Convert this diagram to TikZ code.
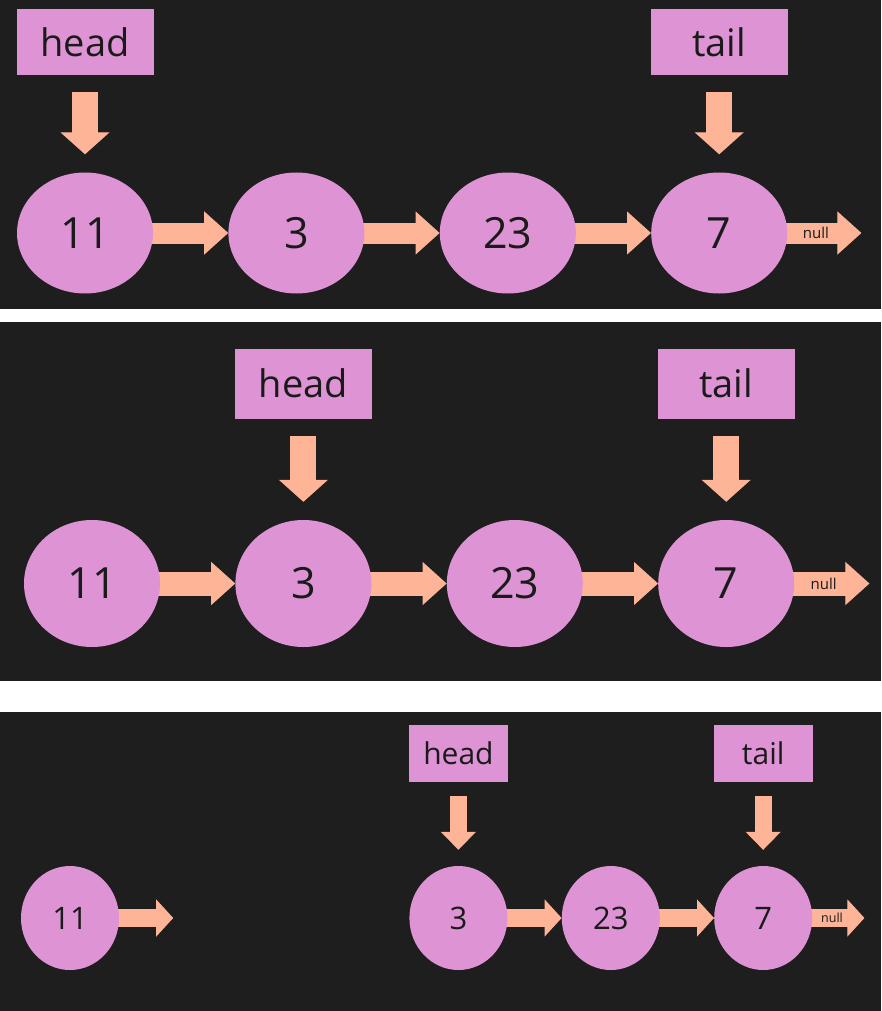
\documentclass[tikz,border=0pt]{standalone}
\usepackage{fontspec}
\setmainfont{Open Sans}
\usetikzlibrary{arrows.meta,positioning,shapes.geometric}
\definecolor{slate}{HTML}{1E1E1E}
\definecolor{orchid}{HTML}{DD93D4}
\definecolor{peach}{HTML}{FDB497}
\definecolor{ink}{HTML}{1A1A1A}
\pgfdeclarelayer{panel}
\pgfdeclarelayer{links}
\pgfsetlayers{panel,links,main}
\tikzset{x=1pt, y=-1pt, node distance=75pt,
	every node/.style={text=ink, inner sep=0pt},
	listnode/.style={
		ellipse,
		fill=orchid,
		minimum width=136pt, minimum height=121pt,
		font=\fontsize{43}{43}\selectfont
	},
	smallnode/.style={
		ellipse,
		fill=orchid,
		minimum width=98pt, minimum height=104pt,
		font=\fontsize{31}{31}\selectfont
	},
	labelbox/.style={
		rectangle,
		fill=orchid,
		minimum width=137pt, minimum height=66pt,
		font=\fontsize{38}{38}\selectfont
	},
	smallbox/.style={
		rectangle,
		fill=orchid,
		minimum width=99pt, minimum height=57pt,
		font=\fontsize{30}{30}\selectfont
	},
	nextarrow/.style={
		draw=peach, line width=21pt,
		-{Triangle[length=24pt,width=43pt,line width=1pt]}
	},
	smallnext/.style={
		draw=peach, line width=18pt,
		-{Triangle[length=17pt,width=37pt,line width=1pt]}
	},
	ptrarrow/.style={
		draw=peach, line width=26pt,
		shorten <=17pt, shorten >=18pt,
		-{Triangle[length=22pt,width=49pt,line width=1pt]}
	},
	smallptr/.style={
		draw=peach, line width=17pt,
		shorten <=14pt, shorten >=16pt,
		-{Triangle[length=18pt,width=35pt,line width=1pt]}
	},
	nulltext/.style={pos=0.68, font=\fontsize{15}{15}\selectfont}
}

\begin{document}
\begin{tikzpicture}
	\useasboundingbox (0,0) rectangle (881,1011);

	% first list
	\node[listnode] (a1) at (85,233) {11};
	\node[listnode, right=of a1] (a2) {3};
	\node[listnode, right=of a2] (a3) {23};
	\node[listnode, right=of a3] (a4) {7};
	\coordinate[right=74pt of a4.east] (anull);
	\node[labelbox, above=97pt of a1] (ahead) {head};
	\node[labelbox, above=97pt of a4] (atail) {tail};

	% second list, head moved on
	\node[listnode, minimum height=127pt] (b1) at (92,583.5) {11};
	\node[listnode, minimum height=127pt, right=of b1] (b2) {3};
	\node[listnode, minimum height=127pt, right=of b2] (b3) {23};
	\node[listnode, minimum height=127pt, right=of b3] (b4) {7};
	\coordinate[right=75pt of b4.east] (bnull);
	\node[labelbox, minimum height=70pt, above=101pt of b2] (bhead) {head};
	\node[labelbox, minimum height=70pt, above=101pt of b4] (btail) {tail};

	% third list, 11 cut off
	\node[smallnode] (c1) at (70,918) {11};
	\coordinate[right=54pt of c1.east] (cfree);
	\node[smallnode, right=290pt of c1] (c2) {3};
	\node[smallnode, right=54pt of c2] (c3) {23};
	\node[smallnode, right=54pt of c3] (c4) {7};
	\coordinate[right=52pt of c4.east] (cnull);
	\node[smallbox, above=84pt of c2] (chead) {head};
	\node[smallbox, above=84pt of c4] (ctail) {tail};

	\begin{pgfonlayer}{panel}
		\fill[white] (0,0) rectangle (881,1011);
		\fill[slate] (0,0) rectangle (881,309);
		\fill[slate] (0,322) rectangle (881,681);
		\fill[slate] (0,712) rectangle (881,1011);
	\end{pgfonlayer}

	\begin{pgfonlayer}{links}
		\draw[nextarrow] (a1.center) -- (a2.west);
		\draw[nextarrow] (a2.center) -- (a3.west);
		\draw[nextarrow] (a3.center) -- (a4.west);
		\draw[nextarrow] (a4.center) -- (anull) node[nulltext] {null};
		\draw[ptrarrow] (ahead.south) -- (a1.north);
		\draw[ptrarrow] (atail.south) -- (a4.north);

		\draw[nextarrow, line width=24pt] (b1.center) -- (b2.west);
		\draw[nextarrow, line width=24pt] (b2.center) -- (b3.west);
		\draw[nextarrow, line width=24pt] (b3.center) -- (b4.west);
		\draw[nextarrow, line width=24pt] (b4.center) -- (bnull) node[nulltext] {null};
		\draw[ptrarrow] (bhead.south) -- (b2.north);
		\draw[ptrarrow] (btail.south) -- (b4.north);

		\draw[smallnext] (c1.center) -- (cfree);
		\draw[smallnext] (c2.center) -- (c3.west);
		\draw[smallnext] (c3.center) -- (c4.west);
		\draw[smallnext] (c4.center) -- (cnull) node[nulltext, font=\fontsize{12.5}{12.5}\selectfont] {null};
		\draw[smallptr] (chead.south) -- (c2.north);
		\draw[smallptr] (ctail.south) -- (c4.north);
	\end{pgfonlayer}
\end{tikzpicture}
\end{document}
